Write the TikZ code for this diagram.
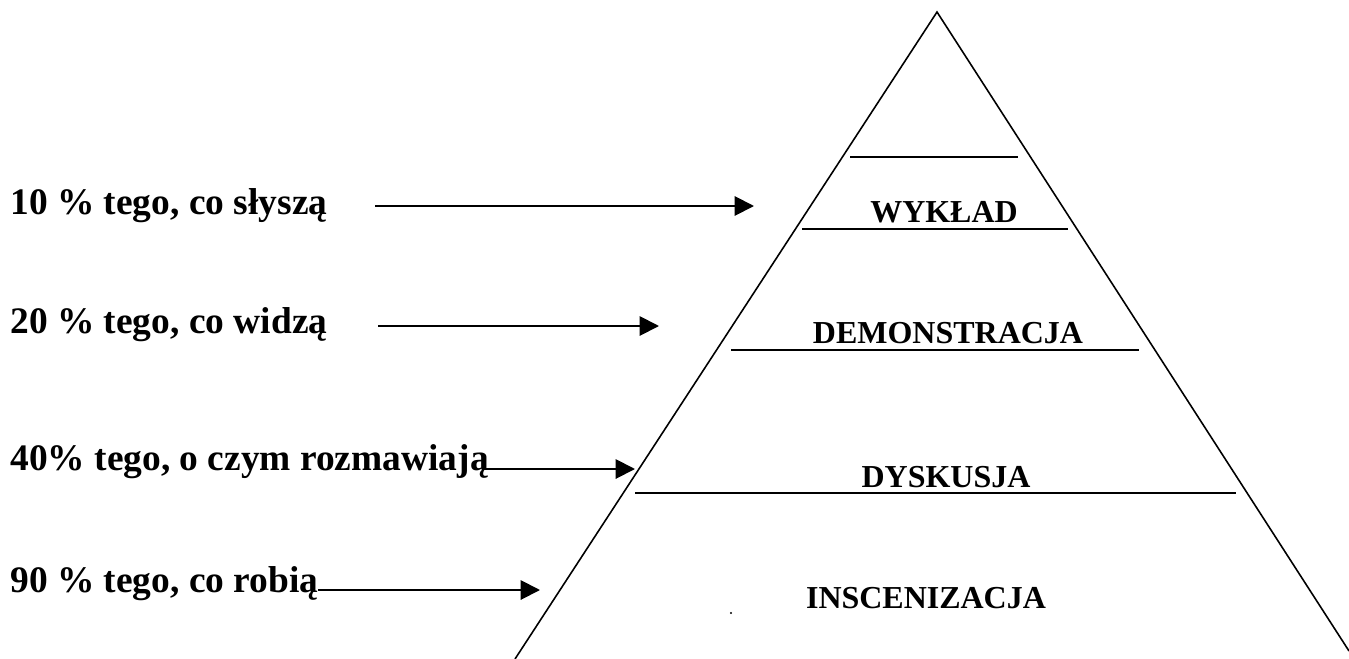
\documentclass[tikz,border=0pt]{standalone}
\usepackage{fontspec}
\setmainfont{Liberation Serif}
\usetikzlibrary{arrows.meta}
\tikzset{
    lbl/.style={inner sep=0pt, anchor=base west, font=\fontsize{21.3}{24}\selectfont\bfseries},
    lvl/.style={inner sep=0pt, anchor=base, font=\fontsize{18.2}{22}\selectfont\bfseries},
    arr/.style={line width=1.1pt, -{Triangle[length=11pt,width=11pt]}}
}
\begin{document}
\begin{tikzpicture}[x=0.02cm,y=-0.02cm]
\useasboundingbox (0,0) rectangle (1349,659);
% pyramid
\coordinate (apex) at (937,12);
\coordinate (bl) at (515,659);
\coordinate (br) at (1349,651);
\draw[line width=0.9pt] (bl) -- (apex) -- (br);
\foreach \y/\a/\b in {157/850/1018, 229/802/1068, 350/731/1139, 493/635/1236} {
    \draw[line width=0.9pt] (\a,\y) -- (\b,\y);
}
\fill (731,613) circle (1.2);
% levels
\node[lvl] (wyklad) at (944,222) {WYKŁAD};
\node[lvl] (demo) at (948,343) {DEMONSTRACJA};
\node[lvl] (dysk) at (946,487) {DYSKUSJA};
\node[lvl] (insc) at (926,608) {INSCENIZACJA};
% left labels
\node[lbl] (l10) at (10,214) {10 \% tego, co słyszą};
\node[lbl] (l20) at (10,333) {20 \% tego, co widzą};
\node[lbl] (l40) at (10,470) {40\% tego, o czym rozmawiają};
\node[lbl] (l90) at (10,592) {90 \% tego, co robią};
\coordinate (s10) at (375,206);
\coordinate (e10) at (754,206);
\coordinate (s20) at (378,326);
\coordinate (e20) at (659,326);
\coordinate (s40) at (484,469);
\coordinate (e40) at (635,469);
\coordinate (s90) at (318,590);
\coordinate (e90) at (540,590);
\draw[arr] (s10) -- (e10);
\draw[arr] (s20) -- (e20);
\draw[arr] (s40) -- (e40);
\draw[arr] (s90) -- (e90);
\end{tikzpicture}
\end{document}
